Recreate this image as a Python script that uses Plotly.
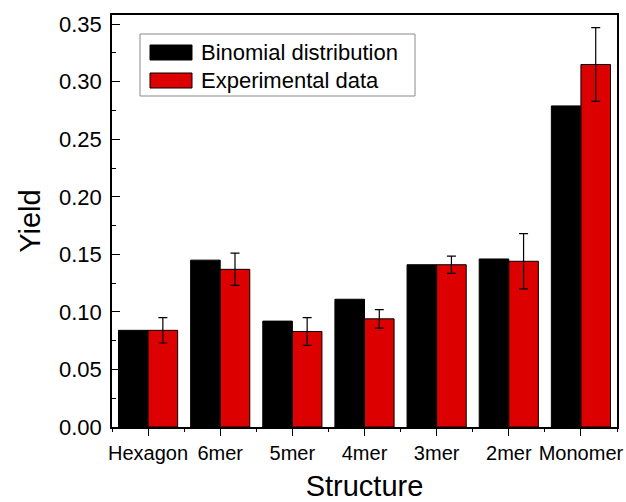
import plotly.graph_objects as go

categories = ["Hexagon", "6mer", "5mer", "4mer", "3mer", "2mer", "Monomer"]
binomial = [0.084, 0.145, 0.092, 0.111, 0.141, 0.146, 0.279]
experimental = [0.084, 0.137, 0.083, 0.094, 0.141, 0.144, 0.315]
exp_err = [0.011, 0.014, 0.012, 0.008, 0.0075, 0.024, 0.032]
series_names = ["Binomial distribution", "Experimental data"]
colors = ["#000000", "#dc0000"]

FONT = "Liberation Sans, Arial, sans-serif"

fig = go.Figure()
fig.add_trace(go.Bar(
    x=categories, y=binomial, name=series_names[0],
    marker=dict(color=colors[0], line=dict(color="black", width=1)),
    showlegend=False,
))
fig.add_trace(go.Bar(
    x=categories, y=experimental, name=series_names[1],
    marker=dict(color=colors[1], line=dict(color="black", width=1)),
    error_y=dict(type="data", array=exp_err, visible=True, color="black",
                 thickness=1.2, width=4.5),
    showlegend=False,
))
# invisible helper trace on a linear overlay axis, used only to draw boundary (minor) ticks
fig.add_trace(go.Scatter(
    x=list(range(len(categories))), y=binomial, xaxis="x2",
    mode="markers", marker=dict(opacity=0), hoverinfo="skip", showlegend=False,
))

L, R, T, B = 112, 9, 15, 75
H = 502 - T - B
W = 626 - L - R

def px_x(p):
    return (p - L) / W

def px_y(p):
    return (502 - B - p) / H

shapes = [
    dict(type="rect", xref="paper", yref="paper",
         x0=px_x(140), x1=px_x(415), y0=px_y(96), y1=px_y(34),
         line=dict(color="#8a8a8a", width=1), fillcolor="rgba(0,0,0,0)"),
    dict(type="rect", xref="paper", yref="paper",
         x0=px_x(150), x1=px_x(192), y0=px_y(60), y1=px_y(45),
         line=dict(color="black", width=1), fillcolor=colors[0]),
    dict(type="rect", xref="paper", yref="paper",
         x0=px_x(150), x1=px_x(192), y0=px_y(88), y1=px_y(73),
         line=dict(color="black", width=1), fillcolor=colors[1]),
]
annotations = [
    dict(xref="paper", yref="paper", x=px_x(199), y=px_y(52.5), text=series_names[0],
         showarrow=False, xanchor="left", yanchor="middle",
         font=dict(family=FONT, size=22, color="black")),
    dict(xref="paper", yref="paper", x=px_x(199), y=px_y(80.5), text=series_names[1],
         showarrow=False, xanchor="left", yanchor="middle",
         font=dict(family=FONT, size=22, color="black")),
]

fig.update_layout(
    width=626, height=502,
    margin=dict(l=L, r=R, t=T, b=B),
    paper_bgcolor="white", plot_bgcolor="white",
    barmode="group", bargap=0.18, bargroupgap=0,
    font=dict(family=FONT, color="black"),
    shapes=shapes, annotations=annotations,
    xaxis=dict(
        range=[-0.5, 6.5], automargin=False,
        showline=True, linecolor="black", linewidth=1.5, mirror=True,
        ticks="outside", ticklen=7, tickcolor="black", tickwidth=1.2,
        tickfont=dict(family=FONT, size=20, color="black"),
        title=dict(text="Structure", font=dict(family=FONT, size=29, color="black"), standoff=16),
        showgrid=False, zeroline=False,
    ),
    xaxis2=dict(
        overlaying="x", anchor="y", side="bottom", automargin=False,
        range=[-0.5, 6.5], tick0=0.5, dtick=1,
        ticks="outside", ticklen=4, tickcolor="black", tickwidth=1.2,
        showticklabels=False, showline=False, showgrid=False, zeroline=False,
    ),
    yaxis=dict(
        range=[0, 0.358], automargin=False,
        showline=True, linecolor="black", linewidth=1.5, mirror=True,
        ticks="inside", ticklen=8, tickcolor="black", tickwidth=1.2,
        dtick=0.05, tick0=0, tickformat=".2f",
        minor=dict(ticks="inside", ticklen=4, dtick=0.025, tickcolor="black", tickwidth=1.2),
        tickfont=dict(family=FONT, size=22, color="black"),
        ticklabelstandoff=4,
        title=dict(text="Yield", font=dict(family=FONT, size=29, color="black"), standoff=10),
        showgrid=False, zeroline=False,
    ),
)

fig.write_html("out.html")
